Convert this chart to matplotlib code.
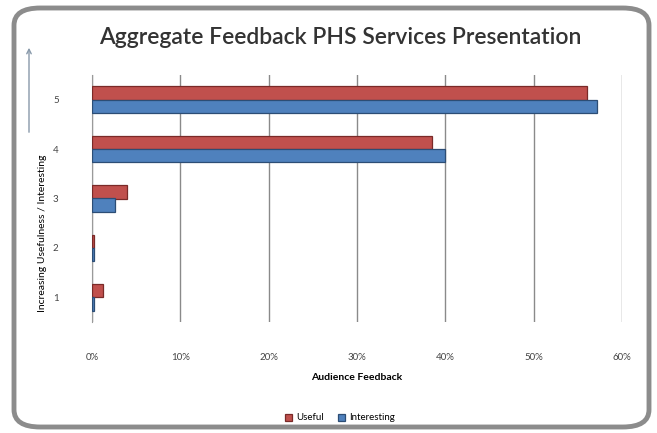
import matplotlib
matplotlib.use("Agg")
import matplotlib.pyplot as plt
from matplotlib.patches import FancyBboxPatch, FancyArrowPatch
import numpy as np

categories = ["1", "2", "3", "4", "5"]
useful = [0.013, 0.002, 0.040, 0.385, 0.560]
interesting = [0.002, 0.002, 0.026, 0.400, 0.572]
xticks = [0, 0.1, 0.2, 0.3, 0.4, 0.5, 0.6]
xtick_labels = ["0%", "10%", "20%", "30%", "40%", "50%", "60%"]

plt.rcParams['font.family'] = ['Lato', 'DejaVu Sans']

W, H = 657, 433
fig = plt.figure(figsize=(W / 100, H / 100), dpi=100)
fig.patch.set_facecolor("white")

# rounded border
border = FancyBboxPatch((14 / W, 6 / H), (W - 22) / W, (H - 14) / H,
                        boxstyle="round,pad=0,rounding_size=0.04",
                        transform=fig.transFigure, facecolor="none",
                        edgecolor="#8c8c8c", linewidth=3.5, zorder=0)
fig.patches.append(border)

ax = fig.add_axes([92 / W, 1 - 322 / H, (622 - 92) / W, (322 - 75) / H])
y = np.arange(1, len(categories) + 1)
h = 0.27
ax.barh(y + h / 2, useful, height=h, color="#C0504D", edgecolor="#7a2a28",
        linewidth=0.9, label="Useful", zorder=3)
ax.barh(y - h / 2, interesting, height=h, color="#4F81BD", edgecolor="#2c4d75",
        linewidth=0.9, label="Interesting", zorder=3)

ax.set_xlim(0, 0.6)
ax.set_ylim(0.5, 5.5)
ax.set_xticks(xticks)
ax.set_xticklabels(xtick_labels, fontsize=7, color="#444444")
ax.set_yticks(y)
ax.set_yticklabels(categories, fontsize=7, color="#444444")
ax.tick_params(axis="x", length=0, pad=22)
ax.tick_params(axis="y", length=0, pad=24)
ax.grid(axis="x", color="#8a8a8a", linewidth=1.0, zorder=0)
for s in ["top", "right", "bottom"]:
    ax.spines[s].set_visible(False)
ax.spines["left"].set_color("#9a9a9a")

ax.set_xlabel("Audience Feedback", fontsize=7.5, fontweight="bold", labelpad=8)
ax.set_ylabel("Increasing Usefulness / Interesting", fontsize=7.5)
ax.yaxis.set_label_coords(-0.085, 0.36)

fig.text(340 / W, 1 - 38 / H, "Aggregate Feedback PHS Services Presentation",
         ha="center", va="center", fontsize=16.5, fontweight=600,
         color="#333333")

arrow = FancyArrowPatch((29 / W, 1 - 135 / H), (29 / W, 1 - 45 / H),
                        transform=fig.transFigure, arrowstyle="->",
                        mutation_scale=8, color="#8899aa", linewidth=1.0)
fig.patches.append(arrow)

fig.legend(loc="center", bbox_to_anchor=(340 / W, 1 - 418 / H), ncol=2,
           frameon=False, fontsize=7, handlelength=0.7, handleheight=0.7,
           columnspacing=1.5, handletextpad=0.4)

fig.savefig("out.png", dpi=100, facecolor="white")
